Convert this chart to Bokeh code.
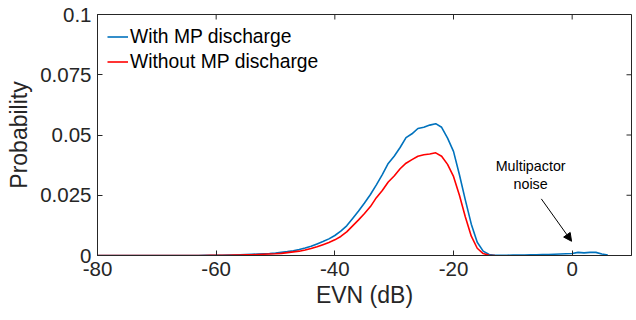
import math
from bokeh.plotting import figure
from bokeh.models import Range1d, FixedTicker, Legend, LegendItem, Arrow, NormalHead, ColumnDataSource
from bokeh.core.properties import value
from bokeh.embed import file_html
from bokeh.resources import INLINE

# ---- data ----
evn_with = list(range(-80, 7))
prob_with = [0.0] * 18 + [
    0.0001, 0.0001, 0.0001, 0.0001, 0.0002, 0.0002, 0.0003, 0.0004, 0.0005, 0.0006,
    0.0007, 0.0008, 0.0010, 0.0013, 0.0016, 0.0020, 0.0025, 0.0031, 0.0038, 0.0048,
    0.0058, 0.0069, 0.0083, 0.0101, 0.0123, 0.0154, 0.0185, 0.0218, 0.0253, 0.0293,
    0.0336, 0.0382, 0.0412, 0.0448, 0.0489, 0.0505, 0.0527, 0.0532, 0.0541, 0.0547,
    0.0532, 0.0487, 0.0432, 0.0335, 0.0230, 0.0130, 0.0055, 0.0018, 0.0004, 0.0001,
    0.0001, 0.0001, 0.0002, 0.0002, 0.0002, 0.0003, 0.0003, 0.0004, 0.0004, 0.0005,
    0.0006, 0.0007, 0.0008, 0.0013, 0.0011, 0.0013, 0.0013, 0.0006, 0.0002]

evn_without = list(range(-80, -12))
prob_without = [0.0] * 18 + [
    0.0, 0.0001, 0.0001, 0.0001, 0.0001, 0.0002, 0.0002, 0.0003, 0.0003, 0.0004,
    0.0005, 0.0006, 0.0007, 0.0009, 0.0012, 0.0015, 0.0018, 0.0023, 0.0029, 0.0036,
    0.0045, 0.0054, 0.0065, 0.0079, 0.0098, 0.0123, 0.0148, 0.0174, 0.0203, 0.0240,
    0.0270, 0.0305, 0.0330, 0.0360, 0.0383, 0.0398, 0.0412, 0.0418, 0.0421, 0.0426,
    0.0412, 0.0378, 0.0328, 0.0250, 0.0160, 0.0080, 0.0030, 0.0008, 0.0001, 0.0]

x_min, x_max = -80, 10
y_min, y_max = 0, 0.1
x_ticks = [-80, -60, -40, -20, 0]
x_tick_labels = ["-80", "-60", "-40", "-20", "0"]
y_ticks = [0, 0.025, 0.05, 0.075, 0.1]
y_tick_labels = ["0", "0.025", "0.05", "0.075", "0.1"]
series_names = ["With MP discharge", "Without MP discharge"]

note_lines = ["Multipactor", "noise"]
note_x = [-7.0, -7.0]
note_y = [0.0370, 0.0295]
arrow_start = (-5.2, 0.0235)
arrow_end = (-0.1, 0.0059)

AX = "#262626"
FONT = "Liberation Sans"

p = figure(width=634, height=318, output_backend="svg", toolbar_location=None,
           x_range=Range1d(x_min, x_max), y_range=Range1d(y_min, y_max),
           min_border_left=97, min_border_right=3, min_border_top=14, min_border_bottom=63)
p.background_fill_color = "white"
p.border_fill_color = "white"
p.outline_line_color = AX
p.outline_line_width = 1
p.grid.visible = False

for ax in (p.xaxis[0], p.yaxis[0]):
    ax.major_tick_in = 5
    ax.major_tick_out = 0
    ax.minor_tick_line_color = None
    ax.axis_line_color = AX
    ax.major_tick_line_color = AX
    ax.major_label_text_color = "#262626"
    ax.major_label_text_font = FONT
    ax.major_label_text_font_size = "20.5px"
    ax.axis_label_text_font = FONT
    ax.axis_label_text_font_size = "23px"
    ax.axis_label_text_font_style = "normal"
    ax.axis_label_text_color = "#262626"

p.xaxis.ticker = FixedTicker(ticks=x_ticks)
p.yaxis.ticker = FixedTicker(ticks=y_ticks)
p.xaxis.major_label_overrides = {t: l for t, l in zip(x_ticks, x_tick_labels)}
p.yaxis.major_label_overrides = {t: l for t, l in zip(y_ticks, y_tick_labels)}
p.xaxis.axis_label = "EVN (dB)"
p.yaxis.axis_label = "Probability"
p.xaxis.major_label_standoff = 6
p.yaxis.major_label_standoff = 6
p.xaxis.axis_label_standoff = 3
p.yaxis.axis_label_standoff = 5

# inward ticks on top and right edges of the box
p.ray(x=x_ticks, y=[y_max] * len(x_ticks), length=5, length_units="screen",
      angle=-math.pi / 2, line_color=AX, line_width=1)
p.ray(x=[x_max] * len(y_ticks), y=y_ticks, length=5, length_units="screen",
      angle=math.pi, line_color=AX, line_width=1)

r1 = p.line(evn_with, prob_with, line_color="#0072BD", line_width=1.6)
r2 = p.line(evn_without, prob_without, line_color="#FF0000", line_width=1.6)

legend = Legend(items=[LegendItem(label=series_names[0], renderers=[r1]),
                       LegendItem(label=series_names[1], renderers=[r2])],
                location="top_left")
legend.border_line_color = None
legend.background_fill_alpha = 0
legend.margin = 10
legend.padding = 0
legend.spacing = 0
legend.label_height = 25
legend.glyph_height = 25
legend.glyph_width = 21
legend.label_standoff = 2
legend.label_text_font = FONT
legend.label_text_font_size = "19.3px"
legend.label_text_color = "#000000"
p.add_layout(legend)

src = ColumnDataSource(dict(x=note_x, y=note_y, t=note_lines))
p.text(x="x", y="y", text="t", source=src, text_font=value(FONT), text_font_size="14.3px",
       text_align="center", text_baseline="middle", text_color="black")
p.add_layout(Arrow(x_start=arrow_start[0], y_start=arrow_start[1], x_end=arrow_end[0], y_end=arrow_end[1],
                   line_color="black", line_width=1,
                   end=NormalHead(size=8, fill_color="black", line_color="black")))

open("out.html", "w").write(file_html(p, INLINE))
